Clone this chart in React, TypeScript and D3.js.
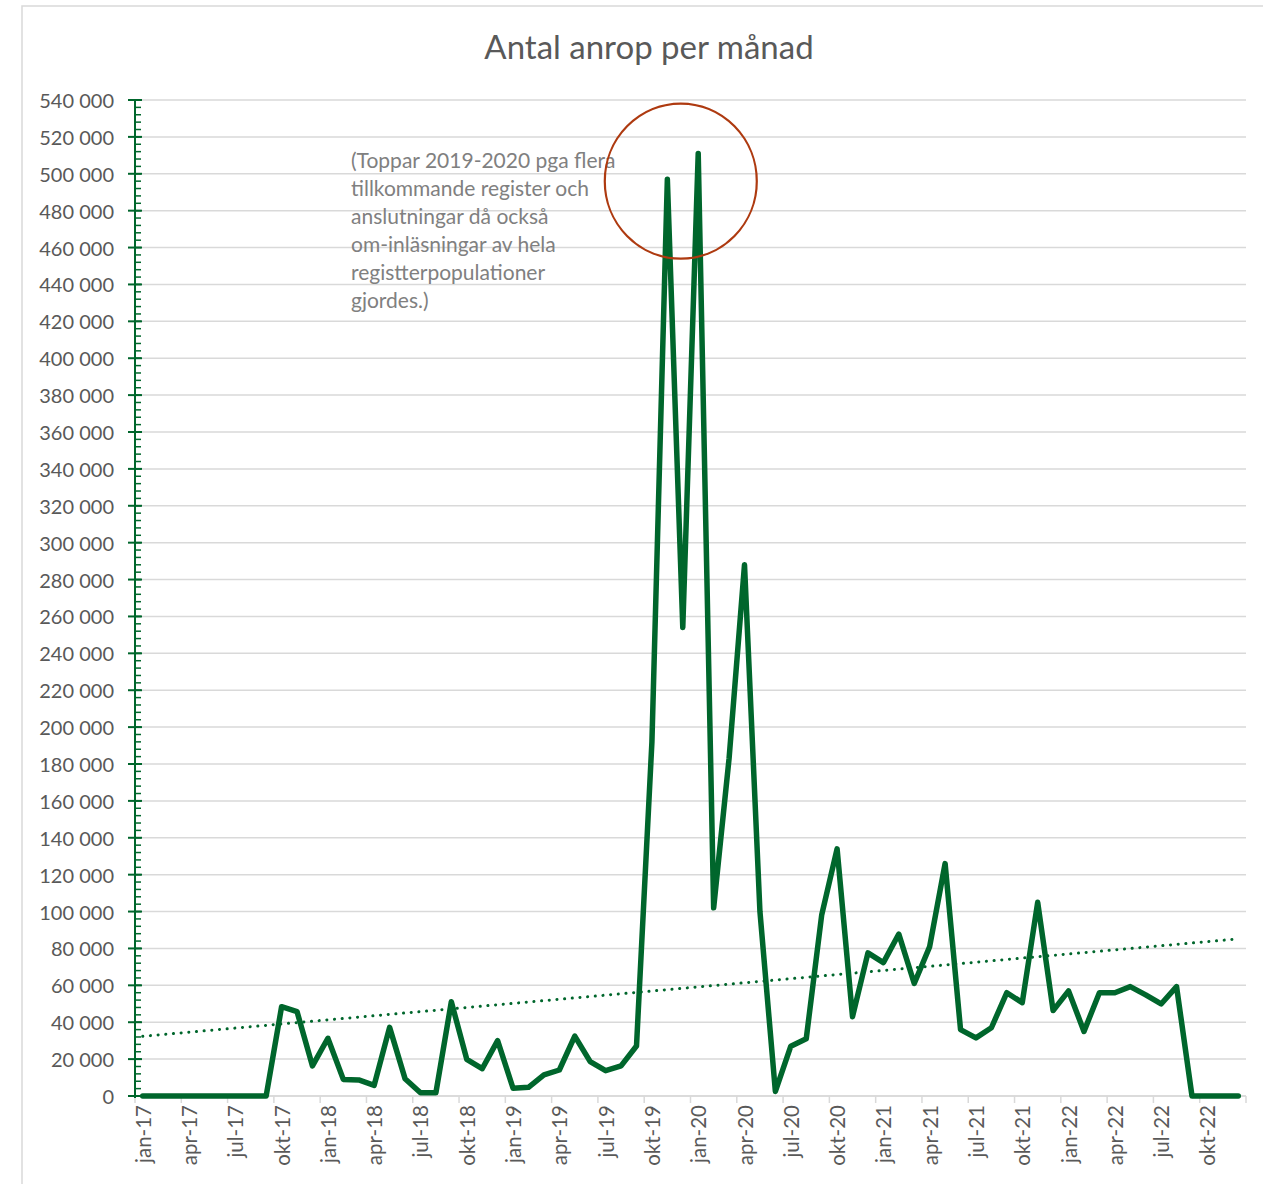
import React from "react";
import * as d3 from "d3";

const monthNames = ["jan", "feb", "mar", "apr", "maj", "jun", "jul", "aug", "sep", "okt", "nov", "dec"];
const years = ["17", "18", "19", "20", "21", "22"];
const categories: string[] = years.flatMap((yy) => monthNames.map((m) => `${m}-${yy}`));

// Antal anrop per månad (jan-17 .. dec-22)
const calls2017 = [0, 0, 0, 0, 0, 0, 0, 0, 0, 48400, 45800, 16300];
const calls2018 = [31300, 9000, 8700, 5800, 37200, 9400, 1800, 1800, 51100, 19900, 14800, 30000];
const calls2019 = [4200, 4700, 11400, 14100, 32500, 18600, 13700, 16300, 27100, 192000, 497000, 254000];
const calls2020 = [511000, 102000, 183000, 288000, 100000, 2500, 27000, 31000, 98000, 134000, 43000, 77600];
const calls2021 = [72300, 87800, 61000, 81000, 126000, 36000, 31500, 37000, 56000, 50600, 105000, 46300];
const calls2022 = [57000, 35000, 56000, 56000, 59300, 54800, 49900, 59300, 0, 0, 0, 0];
const values: number[] = [...calls2017, ...calls2018, ...calls2019, ...calls2020, ...calls2021, ...calls2022];

const yTicks = d3.range(0, 540001, 20000);
const yMinorTicks = d3.range(0, 540001, 4000);

const title = "Antal anrop per månad";
const noteLines = [
  "(Toppar 2019-2020 pga flera",
  "tillkommande register och",
  "anslutningar då också",
  "om-inläsningar av hela",
  "registterpopulationer",
  "gjordes.)",
];

const FONT = "Lato, 'Open Sans', sans-serif";
const GREEN = "#00662c";
const GRID = "#d9d9d9";
const TEXT = "#595959";

export default function App() {
  const W = 1263;
  const H = 1184;
  const left = 135;
  const right = 1246;
  const top = 100;
  const bottom = 1096;

  const n = categories.length;
  const x = d3.scaleBand<number>().domain(d3.range(n)).range([left, right]).padding(0);
  const step = x.step();
  const cx = (i: number) => (x(i) as number) + step / 2;
  const y = d3.scaleLinear().domain([0, 540000]).range([bottom, top]);

  const line = d3
    .line<number>()
    .x((_, i) => cx(i))
    .y((v) => y(v));

  // linear trendline (least squares)
  const xs = d3.range(n);
  const mx = d3.mean(xs) as number;
  const my = d3.mean(values) as number;
  const sxy = d3.sum(xs, (i) => (i - mx) * (values[i] - my));
  const sxx = d3.sum(xs, (i) => (i - mx) * (i - mx));
  const slope = sxy / sxx;
  const intercept = my - slope * mx;
  const trend = [0, n - 1].map((i) => [cx(i), y(intercept + slope * i)] as [number, number]);

  const fmt = (v: number) => d3.format(",")(v).replace(/,/g, " ");

  const boundaryTicks = d3.range(0, n + 1, 3).map((i) => left + i * step);
  const labelIdx = d3.range(0, n, 3);

  return (
    <svg
      width={W}
      height={H}
      style={{ position: "absolute", left: 0, top: 0, background: "#fff" }}
      fontFamily={FONT}
    >
      <rect x={0} y={0} width={W} height={H} fill="#fff" />
      <rect x={22} y={6} width={W + 10} height={H + 10} fill="none" stroke={GRID} strokeWidth={1.5} />

      <text x={649} y={59} textAnchor="middle" fontSize={33} fill={TEXT}>
        {title}
      </text>

      {/* gridlines */}
      {yTicks.map((t) => (
        <line key={"g" + t} x1={left} x2={right} y1={y(t)} y2={y(t)} stroke={GRID} strokeWidth={1.5} />
      ))}

      {/* x axis */}
      <line x1={left} x2={right} y1={bottom} y2={bottom} stroke={GRID} strokeWidth={1.5} />
      {boundaryTicks.map((bx, k) => (
        <line key={"xt" + k} x1={bx} x2={bx} y1={bottom} y2={bottom + 7} stroke={GRID} strokeWidth={1.5} />
      ))}
      {labelIdx.map((i) => (
        <text
          key={"xl" + i}
          transform={`translate(${cx(i)},${bottom + 9}) rotate(-90)`}
          textAnchor="end"
          dominantBaseline="central"
          fontSize={20.5}
          fill={TEXT}
        >
          {categories[i]}
        </text>
      ))}

      {/* y axis */}
      <line x1={left} x2={left} y1={top} y2={bottom + 2} stroke={GREEN} strokeWidth={2} />
      {yMinorTicks.map((t) => (
        <line key={"ym" + t} x1={left} x2={left + 6} y1={y(t)} y2={y(t)} stroke={GREEN} strokeWidth={1.5} />
      ))}
      {yTicks.map((t) => (
        <line key={"yM" + t} x1={left - 7} x2={left + 7} y1={y(t)} y2={y(t)} stroke={GREEN} strokeWidth={2} />
      ))}
      {yTicks.map((t) => (
        <text
          key={"yl" + t}
          x={114}
          y={y(t)}
          textAnchor="end"
          dominantBaseline="central"
          fontSize={20}
          fill={TEXT}
        >
          {fmt(t)}
        </text>
      ))}

      {/* trendline */}
      <line
        x1={trend[0][0]}
        y1={trend[0][1]}
        x2={trend[1][0]}
        y2={trend[1][1]}
        stroke={GREEN}
        strokeWidth={3}
        strokeLinecap="round"
        strokeDasharray="0.1 7.6"
      />

      {/* data line */}
      <path
        d={line(values) as string}
        fill="none"
        stroke={GREEN}
        strokeWidth={5.5}
        strokeLinejoin="round"
        strokeLinecap="round"
      />

      {/* annotation */}
      <text fontSize={21} fill="#808080">
        {noteLines.map((l, k) => (
          <tspan key={k} x={351} y={168 + k * 27.9}>
            {l}
          </tspan>
        ))}
      </text>
      <ellipse
        cx={cx(35) - 2}
        cy={y(496000)}
        rx={76}
        ry={77.5}
        fill="none"
        stroke="#ae3a10"
        strokeWidth={2.2}
      />
    </svg>
  );
}
